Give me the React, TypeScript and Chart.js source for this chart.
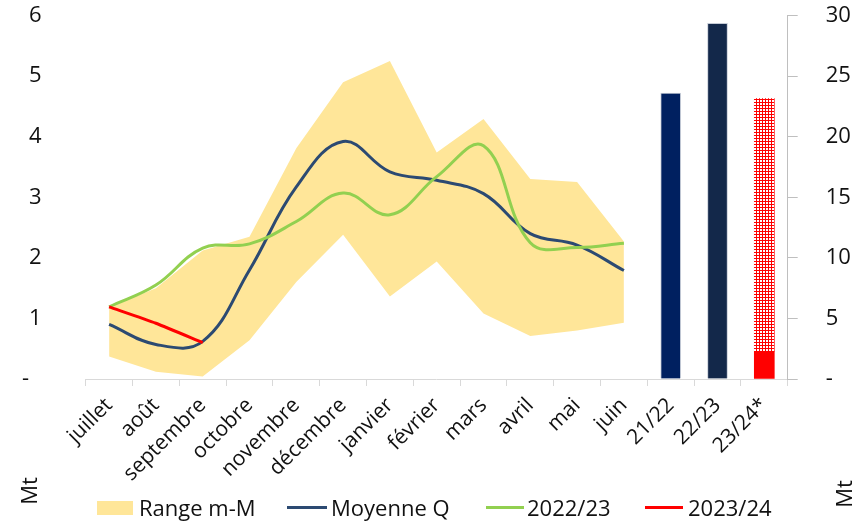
import React, { useEffect, useLayoutEffect, useRef } from 'react';
import { Chart, registerables } from 'chart.js';
Chart.register(...registerables);

const categories = ['juillet', 'août', 'septembre', 'octobre', 'novembre', 'décembre', 'janvier', 'février', 'mars', 'avril', 'mai', 'juin', '21/22', '22/23', '23/24*'];
const rangeMax = [1.19, 1.5, 2.12, 2.35, 3.81, 4.9, 5.25, 3.74, 4.29, 3.3, 3.25, 2.27];
const rangeMin = [0.37, 0.12, 0.04, 0.64, 1.6, 2.38, 1.36, 1.94, 1.08, 0.71, 0.8, 0.93];
const moyenneQ = [0.9, 0.57, 0.62, 1.8, 3.17, 3.92, 3.42, 3.28, 3.06, 2.4, 2.21, 1.79];
const serie2022 = [1.19, 1.55, 2.16, 2.23, 2.6, 3.07, 2.71, 3.34, 3.85, 2.25, 2.17, 2.24];
const serie2023 = [1.19, 0.92, 0.6];
const totalsPast = [23.6, 29.35];
const total2324Realised = 2.25;
const total2324Forecast = 23.15;
const leftTicks = [0, 1, 2, 3, 4, 5, 6];
const rightTicks = [0, 5, 10, 15, 20, 25, 30];

const FONT = "'Open Sans', sans-serif";
const FS_TICK = 22;
const FS_X = 21;
const FS_LEG = 22;
const pad = (arr: number[]) => categories.map((_, i) => (i < arr.length ? arr[i] : null));
const at = (idx: number[], vals: number[]) => categories.map((_, i) => { const k = idx.indexOf(i); return k >= 0 ? vals[k] : null; });

export default function App() {
  const ref = useRef<HTMLCanvasElement | null>(null);
  useLayoutEffect(() => {
    const prev = document.body.style.margin;
    document.body.style.margin = '0';
    return () => { document.body.style.margin = prev; };
  }, []);
  useEffect(() => {
    const canvas = ref.current!;
    const tile = document.createElement('canvas');
    tile.width = 3; tile.height = 3;
    const tc = tile.getContext('2d')!;
    tc.fillStyle = '#FF0000';
    tc.fillRect(0, 0, 3, 3);
    tc.fillStyle = '#FFFFFF';
    tc.fillRect(1, 1, 2, 2);
    const pattern = canvas.getContext('2d')!.createPattern(tile, 'repeat')!;

    const chart = new Chart(canvas, {
      type: 'line',
      data: {
        labels: categories,
        datasets: [
          { label: 'Range m-M', data: pad(rangeMax), borderWidth: 0, pointRadius: 0, tension: 0, fill: '+1', backgroundColor: '#FFE699', borderColor: 'rgba(0,0,0,0)', order: 10, yAxisID: 'y' },
          { label: 'min', data: pad(rangeMin), borderWidth: 0, pointRadius: 0, tension: 0, fill: false, borderColor: 'rgba(0,0,0,0)', order: 11, yAxisID: 'y' },
          { label: 'Moyenne Q', data: pad(moyenneQ), borderColor: '#2C4A72', borderWidth: 3, pointRadius: 0, tension: 0.4, fill: false, order: 3, yAxisID: 'y' },
          { label: '2022/23', data: pad(serie2022), borderColor: '#92D050', borderWidth: 3, pointRadius: 0, tension: 0.4, fill: false, order: 2, yAxisID: 'y' },
          { label: '2023/24', data: pad(serie2023), borderColor: '#FF0000', borderWidth: 3, pointRadius: 0, tension: 0.2, fill: false, order: 1, yAxisID: 'y' },
          { type: 'bar', label: 'totaux', data: at([12, 13], totalsPast), backgroundColor: categories.map((_, i) => (i === 12 ? '#002060' : '#13284A')), borderColor: '#C5CBD6', borderWidth: 1, barThickness: 20, stack: 'b', yAxisID: 'y1', order: 5 } as any,
          { type: 'bar', label: 'réalisé', data: at([14], [total2324Realised]), backgroundColor: '#FF0000', borderWidth: 0, barThickness: 20, stack: 'b', yAxisID: 'y1', order: 5 } as any,
          { type: 'bar', label: 'prévision', data: at([14], [total2324Forecast - total2324Realised]), backgroundColor: pattern, borderWidth: 0, barThickness: 20, stack: 'b', yAxisID: 'y1', order: 5 } as any,
        ],
      },
      options: {
        animation: false,
        responsive: false,
        maintainAspectRatio: false,
        layout: { padding: { top: 15.5, left: 0, right: 0, bottom: 22 } },
        plugins: { legend: { display: false }, tooltip: { enabled: false } },
        scales: {
          x: {
            type: 'category',
            offset: true,
            grid: { offset: true, drawOnChartArea: false, drawTicks: true, tickLength: 7, color: '#D9D9D9' },
            border: { display: true, color: '#D9D9D9' },
            ticks: { autoSkip: false, minRotation: 45, maxRotation: 45, padding: 7, color: '#111', font: { family: FONT, size: FS_X } },
            afterFit: (s: any) => { s.height = 120; },
          },
          y: {
            position: 'left',
            min: 0, max: 6,
            afterBuildTicks: (s: any) => { s.ticks = leftTicks.map((v) => ({ value: v })); },
            grid: { display: false, drawTicks: false },
            border: { display: false },
            ticks: { padding: 44, color: '#111', font: { family: FONT, size: FS_TICK }, callback: (v: any) => (v === 0 ? '-\u2007' : String(v)) },
            afterFit: (s: any) => { s.width = 85.7; s.paddingTop = 0; s.paddingBottom = 0; },
          },
          y1: {
            position: 'right',
            min: 0, max: 30,
            stacked: true,
            afterBuildTicks: (s: any) => { s.ticks = rightTicks.map((v) => ({ value: v })); },
            grid: { drawOnChartArea: false, drawTicks: true, tickLength: 10, color: '#BFBFBF' },
            border: { display: true, color: '#BFBFBF' },
            ticks: { padding: 28, color: '#111', font: { family: FONT, size: FS_TICK }, callback: (v: any) => (v === 0 ? '-' : String(v)) },
            afterFit: (s: any) => { s.width = 860 - 787.7; s.paddingTop = 0; s.paddingBottom = 0; },
          },
        },
      },
    });
    return () => chart.destroy();
  }, []);

  const txt: React.CSSProperties = { position: 'absolute', fontFamily: FONT, fontSize: FS_LEG, color: '#111', lineHeight: '22px', top: 495.5, whiteSpace: 'nowrap' };
  const line = (left: number, color: string, w = 40): React.CSSProperties => ({ position: 'absolute', left, top: 506, width: w, height: 3, background: color });
  const mt = (cx: number, cy: number): React.CSSProperties => ({ position: 'absolute', left: cx - 20, top: cy - 11, width: 40, height: 22, lineHeight: '22px', textAlign: 'center', fontFamily: FONT, fontSize: FS_LEG, color: '#111', transform: 'rotate(-90deg)' });

  return (
    <div style={{ position: 'relative', width: 860, height: 521, background: '#fff' }}>
      <canvas ref={ref} width={860} height={521} style={{ position: 'absolute', left: 0, top: 0, width: 860, height: 521 }} />
      <div style={{ position: 'absolute', left: 97, top: 501, width: 36, height: 14, background: '#FFE699' }} />
      <span style={{ ...txt, left: 139 }}>Range m-M</span>
      <div style={line(287, '#2C4A72')} />
      <span style={{ ...txt, left: 331 }}>Moyenne Q</span>
      <div style={line(486, '#92D050', 38)} />
      <span style={{ ...txt, left: 527 }}>2022/23</span>
      <div style={line(645, '#FF0000', 38)} />
      <span style={{ ...txt, left: 688 }}>2023/24</span>
      <div style={mt(28, 491)}>Mt</div>
      <div style={mt(843, 494)}>Mt</div>
    </div>
  );
}
